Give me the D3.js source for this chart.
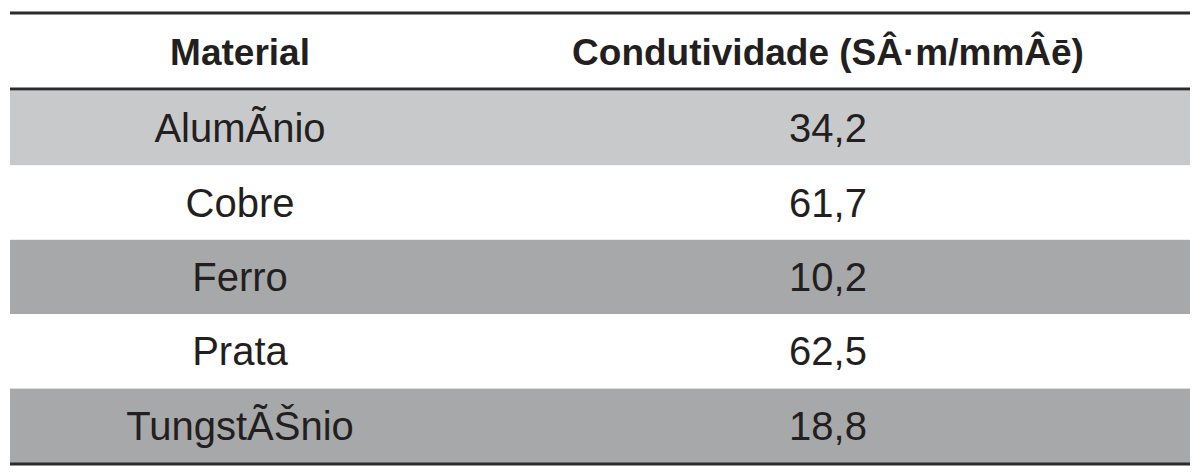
<!DOCTYPE html>
<html>
<head>
    <script src="https://cdnjs.cloudflare.com/ajax/libs/d3/7.8.5/d3.min.js"></script>
    <style>
        body { margin: 0; background: #fff; }
        text { font-family: "Liberation Sans", Arial, sans-serif; fill: #231f20; }
    </style>
</head>
<body>
    <div id="table"></div>
    <script>
        const headers = ["Material", "Condutividade (S·m/mm²)"];
        const materials = ["Alumínio", "Cobre", "Ferro", "Prata", "Tungstênio"];
        const conductivity = ["34,2", "61,7", "10,2", "62,5", "18,8"];
        const rowFills = ["#c8c9cb", "#ffffff", "#a7a8aa", "#ffffff", "#a7a8aa"];

        const width = 1200, height = 476;
        const left = 10, right = 1190;

        const svg = d3.select("#table").append("svg")
            .attr("width", width).attr("height", height);

        // column centres
        const x = d3.scaleOrdinal().domain([0, 1]).range([240, 828]);
        // row bands
        const y = d3.scaleBand().domain(d3.range(materials.length)).range([91, 463]);

        svg.selectAll("rect.row")
            .data(materials)
            .join("rect")
            .attr("x", left)
            .attr("y", (d, i) => y(i))
            .attr("width", right - left)
            .attr("height", y.bandwidth())
            .attr("fill", (d, i) => rowFills[i]);

        // header
        svg.selectAll("text.head")
            .data(headers)
            .join("text")
            .attr("x", (d, i) => x(i))
            .attr("y", 65)
            .attr("text-anchor", "middle")
            .style("font-size", "37px")
            .style("font-weight", "bold")
            .text(d => d);

        // cells
        const cols = [materials, conductivity];
        cols.forEach((col, c) => {
            svg.selectAll("text.c" + c)
                .data(col)
                .join("text")
                .attr("x", x(c))
                .attr("y", (d, i) => y(i) + y.bandwidth() / 2 + 14)
                .attr("text-anchor", "middle")
                .style("font-size", "40px")
                .text(d => d);
        });

        // rules
        [13, 89, 464].forEach(yy => {
            svg.append("line")
                .attr("x1", left).attr("x2", right)
                .attr("y1", yy).attr("y2", yy)
                .attr("stroke", "#2b2b2b")
                .attr("stroke-width", 3);
        });
    </script>
</body>
</html>
